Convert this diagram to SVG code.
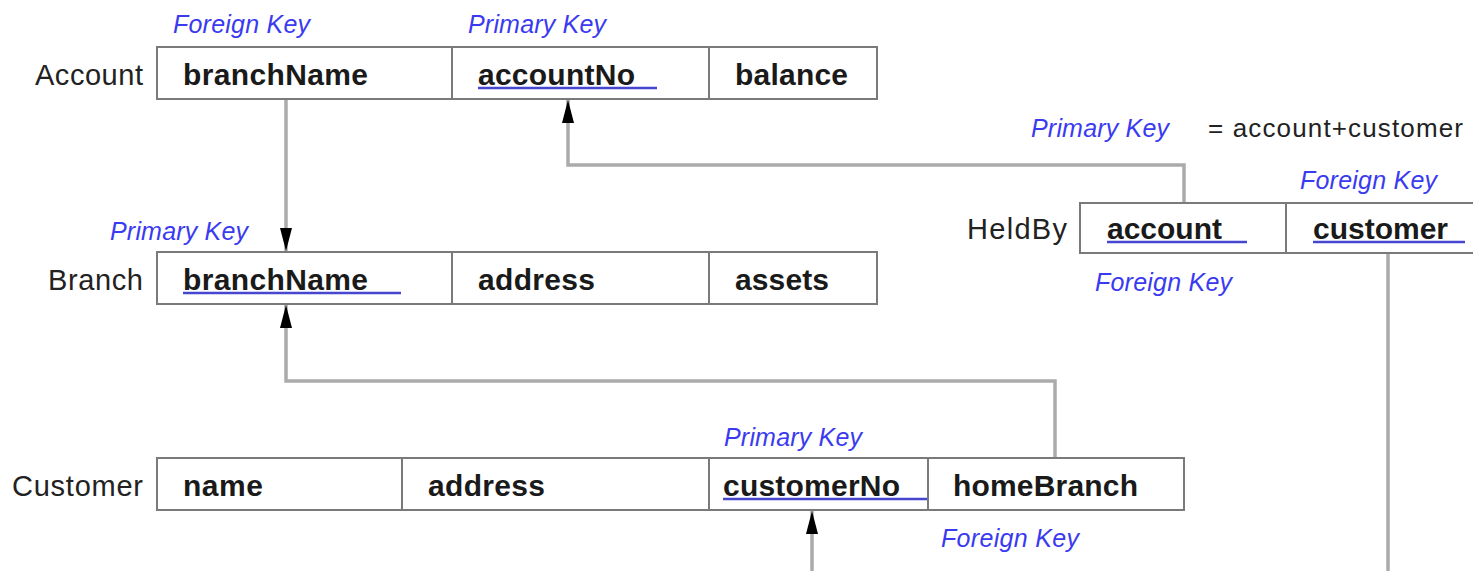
<svg xmlns="http://www.w3.org/2000/svg" width="1473" height="571" viewBox="0 0 1473 571">
  <style>
    .box { fill: #ffffff; stroke: #7a7a7a; stroke-width: 2; }
    .div { stroke: #7a7a7a; stroke-width: 2; }
    .name { font-family: "Liberation Sans", Arial, sans-serif; font-size: 29px; fill: #222222; }
    .field { font-family: "Liberation Sans", Arial, sans-serif; font-size: 30px; font-weight: bold; fill: #1a1a1a; }
    .key { font-family: "Liberation Sans", Arial, sans-serif; font-size: 25px; font-style: italic; fill: #3a3af0; }
    .note { font-family: "Liberation Sans", Arial, sans-serif; font-size: 26px; fill: #222222; }
    .ul { stroke: #4646d0; stroke-width: 2.5; }
    .conn { fill: none; stroke: #ababab; stroke-width: 3.5; }
  </style>
  <defs>
    <marker id="arrow" markerUnits="userSpaceOnUse" markerWidth="24" markerHeight="14" refX="23" refY="7" orient="auto">
      <path d="M0,1 L23,7 L0,13 z" fill="#000000"/>
    </marker>
  </defs>

  <rect width="1473" height="571" fill="#ffffff"/>

  <!-- foreign key connectors -->
  <g id="connectors">
    <path class="conn" d="M286 100 V251" marker-end="url(#arrow)"/>
    <path class="conn" d="M1184 203 V165 H568 V100" marker-end="url(#arrow)"/>
    <path class="conn" d="M1055 458 V381 H286 V305" marker-end="url(#arrow)"/>
    <path class="conn" d="M1388 254 V571"/>
    <path class="conn" d="M812 571 V511" marker-end="url(#arrow)"/>
  </g>

  <!-- Account table -->
  <g id="account">
    <text class="key" x="173" y="33" textLength="137">Foreign Key</text>
    <text class="key" x="468" y="33" textLength="138">Primary Key</text>
    <text class="name" x="35" y="85" textLength="108">Account</text>
    <rect class="box" x="157" y="47" width="720" height="52"/>
    <line class="div" x1="452" y1="47" x2="452" y2="99"/>
    <line class="div" x1="709" y1="47" x2="709" y2="99"/>
    <text class="field" x="183" y="85" textLength="185">branchName</text>
    <text class="field" x="478" y="85" textLength="157">accountNo</text>
    <line class="ul" x1="478" y1="88" x2="657" y2="88"/>
    <text class="field" x="735" y="85" textLength="113">balance</text>
  </g>

  <!-- Branch table -->
  <g id="branch">
    <text class="key" x="110" y="240" textLength="138">Primary Key</text>
    <text class="name" x="48" y="290" textLength="95">Branch</text>
    <rect class="box" x="157" y="252" width="720" height="52"/>
    <line class="div" x1="452" y1="252" x2="452" y2="304"/>
    <line class="div" x1="709" y1="252" x2="709" y2="304"/>
    <text class="field" x="183" y="290" textLength="185">branchName</text>
    <line class="ul" x1="183" y1="293" x2="401" y2="293"/>
    <text class="field" x="478" y="290" textLength="117">address</text>
    <text class="field" x="735" y="290" textLength="94">assets</text>
  </g>

  <!-- HeldBy table -->
  <g id="heldby">
    <text class="key" x="1031" y="137" textLength="138">Primary Key</text>
    <text class="note" x="1208" y="137" textLength="255">= account+customer</text>
    <text class="key" x="1300" y="189" textLength="137">Foreign Key</text>
    <text class="name" x="967" y="239" textLength="100">HeldBy</text>
    <rect class="box" x="1080" y="203" width="400" height="50"/>
    <line class="div" x1="1286" y1="203" x2="1286" y2="253"/>
    <text class="field" x="1107" y="239" textLength="115">account</text>
    <line class="ul" x1="1107" y1="242" x2="1247" y2="242"/>
    <text class="field" x="1313" y="239" textLength="135">customer</text>
    <line class="ul" x1="1313" y1="242" x2="1465" y2="242"/>
    <text class="key" x="1095" y="291" textLength="137">Foreign Key</text>
  </g>

  <!-- Customer table -->
  <g id="customer">
    <text class="key" x="724" y="446" textLength="138">Primary Key</text>
    <text class="name" x="12" y="496" textLength="131">Customer</text>
    <rect class="box" x="157" y="458" width="1027" height="52"/>
    <line class="div" x1="402" y1="458" x2="402" y2="510"/>
    <line class="div" x1="709" y1="458" x2="709" y2="510"/>
    <line class="div" x1="928" y1="458" x2="928" y2="510"/>
    <text class="field" x="183" y="496" textLength="80">name</text>
    <text class="field" x="428" y="496" textLength="117">address</text>
    <text class="field" x="723" y="496" textLength="177">customerNo</text>
    <line class="ul" x1="723" y1="499" x2="927" y2="499"/>
    <text class="field" x="953" y="496" textLength="185">homeBranch</text>
    <text class="key" x="941" y="547" textLength="138">Foreign Key</text>
  </g>
</svg>
